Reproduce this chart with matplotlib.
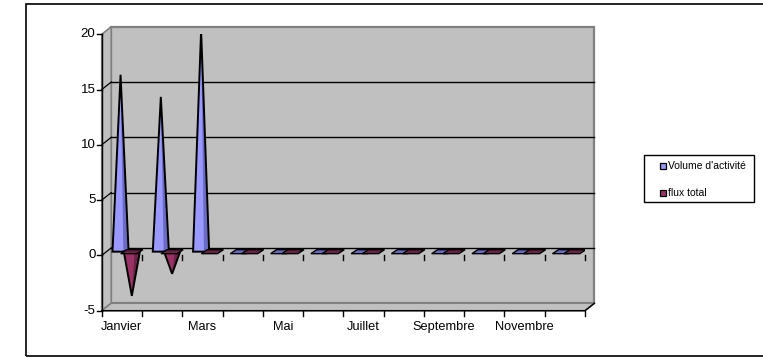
import matplotlib
matplotlib.use("Agg")
import matplotlib.pyplot as plt
from matplotlib.patches import Polygon, Rectangle

plt.rcParams["font.family"] = ["Liberation Sans", "DejaVu Sans"]

# données mensuelles
mois = ["Janvier", "Février", "Mars", "Avril", "Mai", "Juin", "Juillet",
        "Août", "Septembre", "Octobre", "Novembre", "Décembre"]
volume = [16, 14, 20, 0, 0, 0, 0, 0, 0, 0, 0, 0]
flux = [-4, -2, 0, 0, 0, 0, 0, 0, 0, 0, 0, 0]
y_ticks = [-5, 0, 5, 10, 15, 20]
series_names = ["Volume d'activité", "flux total"]

COL_VOL, COL_VOL_DARK = "#9999FF", "#6B6BC4"
COL_FLUX, COL_FLUX_DARK = "#993366", "#6A2247"
WALL = "#C0C0C0"
EDGE = "#808080"

fig = plt.figure(figsize=(7.63, 3.58), dpi=100)

# cadre extérieur du graphique
fig.patches.append(Rectangle((26 / 763, 2 / 358), 1.0, 352 / 358,
                             transform=fig.transFigure, fill=False,
                             edgecolor="black", linewidth=1.2, clip_on=False))

ax = fig.add_axes([0.1333, 0.1321, 0.6334, 0.7721])
n = len(mois)
ymin, ymax = -5, 20
ax.set_xlim(0, n)
ax.set_ylim(ymin, ymax)
ax.axis("off")

# profondeur de la vue 3D (en unités de données)
DX, DY = 0.236, 0.68
PX = 1 / 40.27       # 1 pixel en x
PY = 1 / 11.06       # 1 pixel en y

# murs : fond, côté gauche, sol
ax.add_patch(Polygon([(DX, ymin + DY), (n + DX, ymin + DY), (n + DX, ymax + DY), (DX, ymax + DY)],
                     closed=True, facecolor=WALL, edgecolor=EDGE, lw=1.6, zorder=1, clip_on=False))
ax.add_patch(Polygon([(0, ymin), (DX, ymin + DY), (DX, ymax + DY), (0, ymax)],
                     closed=True, facecolor=WALL, edgecolor=EDGE, lw=1.2, zorder=1, clip_on=False))
ax.add_patch(Polygon([(0, ymin), (n, ymin), (n + DX, ymin + DY), (DX, ymin + DY)],
                     closed=True, facecolor=WALL, edgecolor=EDGE, lw=1.2, zorder=1, clip_on=False))

# quadrillage sur le mur du fond et le mur de côté
for v in y_ticks[1:-1]:
    ax.plot([DX, n + DX], [v + DY, v + DY], color="black", lw=1.0, zorder=2, clip_on=False)
    ax.plot([0, DX], [v, v + DY], color="black", lw=0.9, zorder=2, clip_on=False)

# cônes
hw = 0.2
mx, my = DX / 2, DY / 2
sx, sy = 3 * PX, 2 * PY


def base(xc, y0, color):
    ax.add_patch(Polygon([(xc - hw - sx, y0 - sy), (xc + hw - sx, y0 - sy),
                          (xc + hw + sx, y0 + sy), (xc - hw + sx, y0 + sy)],
                         closed=True, facecolor=color, edgecolor="black", lw=1.0, zorder=3))


def cone(xc, v, light, dark):
    xc = xc + mx
    y0 = my
    if v == 0:
        base(xc, y0, dark)
        return
    tip = (xc, v + y0)
    ax.add_patch(Polygon([(xc - hw, y0), tip, (xc + hw, y0)], closed=True,
                         facecolor=light, edgecolor="none", zorder=3))
    ax.add_patch(Polygon([(xc + hw * 0.35, y0), tip, (xc + hw, y0)], closed=True,
                         facecolor=dark, edgecolor="none", zorder=3))
    ax.add_patch(Polygon([(xc - hw, y0), tip, (xc + hw, y0)], closed=True,
                         facecolor="none", edgecolor="black", lw=1.4, joinstyle="miter", zorder=3))
    if v < 0:
        base(xc, y0, dark)


for i in range(n):
    cone(i + 0.35, volume[i], COL_VOL, COL_VOL_DARK)
    cone(i + 0.63, flux[i], COL_FLUX, COL_FLUX_DARK)

# axe des valeurs (avant)
ax.plot([0, 0], [ymin, ymax], color="black", lw=1.0, zorder=5, clip_on=False)
for v in y_ticks:
    ax.plot([0, -5 * PX], [v, v], color="black", lw=1.0, zorder=5, clip_on=False)
    ax.annotate(str(v), (0, v), xytext=(-4.5, 0), textcoords="offset points",
                ha="right", va="center", fontsize=9.5)

# axe des catégories (bord avant du sol)
ax.plot([0, n, n + DX], [ymin, ymin, ymin + DY], color="black", lw=1.0, zorder=5, clip_on=False)
for i in range(n + 1):
    ax.plot([i, i], [ymin, ymin - 5 * PY], color="black", lw=1.0, zorder=5, clip_on=False)
for i in range(1, n + 1):
    ax.plot([i, i], [0, -5 * PY], color="black", lw=1.0, zorder=5, clip_on=False)
for i in range(0, n, 2):
    ax.annotate(mois[i], (i + 0.5, ymin), xytext=(0, -12), textcoords="offset points",
                ha="center", va="center", fontsize=9.2)

# légende
fig.patches.append(Rectangle((644 / 763, (358 - 202) / 358), 110 / 763, 47 / 358,
                             transform=fig.transFigure, facecolor="white",
                             edgecolor="black", linewidth=1.0))
for k, (name, col) in enumerate(zip(series_names, [COL_VOL, COL_FLUX])):
    yc = 166 + k * 27
    fig.patches.append(Rectangle((660 / 763, (358 - yc - 3) / 358), 6 / 763, 6 / 358,
                                 transform=fig.transFigure, facecolor=col,
                                 edgecolor="black", linewidth=0.9))
    fig.text(668 / 763, (358 - yc) / 358, name, fontsize=7.5, va="center", ha="left")

fig.savefig("out.png", dpi=100)
